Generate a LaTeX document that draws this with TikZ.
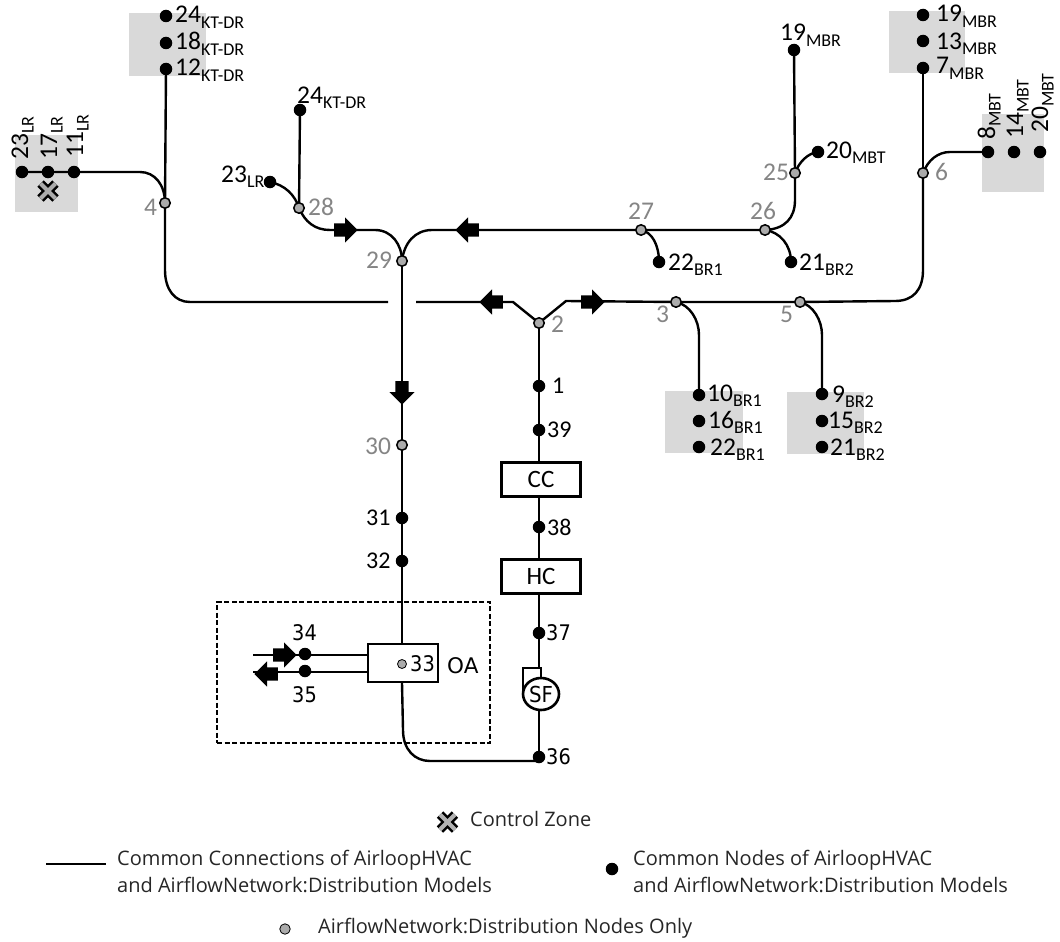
\documentclass[tikz,border=0pt]{standalone}
\usepackage{fontspec}
\setmainfont{Carlito}
\newfontfamily\dv{DejaVu Sans}
\newfontfamily\dvs[FakeStretch=0.9]{DejaVu Sans}
\newfontfamily\leg{Open Sans}
\usetikzlibrary{shapes.arrows,shapes.geometric,backgrounds,calc}
\definecolor{zone}{gray}{0.85}
\definecolor{gnode}{gray}{0.67}
\definecolor{glab}{gray}{0.52}
\newcommand\lab[2]{{\fontsize{25.5}{24}\selectfont #1}\raisebox{-5.5pt}{\fontsize{18}{17}\selectfont #2}}
\newcommand\bnum[1]{{\fontsize{25.5}{24}\selectfont #1}}
\newcommand\snum[1]{{\fontsize{24}{23}\selectfont #1}}
\newcommand\dvn[1]{{\dvs\fontsize{21.5}{20}\selectfont #1}}
\tikzset{
  conn/.style={line width=2.4pt,black},
  bd/.style={circle,fill=black,inner sep=0,minimum size=12.5pt},
  gd/.style={circle,fill=gnode,draw=black,line width=1.5pt,inner sep=0,minimum size=10.5pt},
  lb/.style={anchor=base west,inner sep=0,black},
  gl/.style={anchor=base west,inner sep=0,glab},
  rl/.style={anchor=base west,inner sep=0,rotate=90,black},
  flow/.style={single arrow,fill=black,inner sep=6.5pt,minimum height=23.5pt,single arrow head extend=6pt,single arrow head indent=0pt,anchor=tail},
  boxn/.style={draw=black,line width=3pt,fill=white,inner sep=0,minimum width=79pt,minimum height=34pt,font=\fontsize{25}{25}\selectfont},
  legt/.style={anchor=base west,inner sep=0,font=\leg\fontsize{20}{20}\selectfont,text=black!85},
  xout/.style={line width=9pt,black},
  xin/.style={line width=4pt},
}
\newcommand\ctrlx[2]{%
  \draw[xout] ($(#1)+(-7.5,-7.5)$) -- ($(#1)+(7.5,7.5)$);
  \draw[xout] ($(#1)+(-7.5,7.5)$) -- ($(#1)+(7.5,-7.5)$);
  \draw[xin,#2] ($(#1)+(-7.5,-7.5)$) -- ($(#1)+(7.5,7.5)$);
  \draw[xin,#2] ($(#1)+(-7.5,7.5)$) -- ($(#1)+(7.5,-7.5)$);}
\begin{document}
\begin{tikzpicture}[x=1pt,y=-1pt]
\useasboundingbox (0,0) rectangle (1060,942);
% junction nodes
\node[gd] (n4) at (165,203) {};
\node[gd] (n28) at (299,208) {};
\node[gd] (n29) at (402,261) {};
\node[gd] (n27) at (641,230) {};
\node[gd] (n26) at (765,230) {};
\node[gd] (n25) at (795,173) {};
\node[gd] (n6) at (923,173) {};
\node[gd] (n2) at (539,323) {};
\node[gd] (n3) at (676,302) {};
\node[gd] (n5) at (800,302) {};
\node[gd] (n30) at (402,445) {};
% black nodes
\node[bd] (kt24) at (166,16) {};
\node[bd] (kt18) at (166,43) {};
\node[bd] (kt12) at (166,69) {};
\node[bd] (lr23) at (22,172) {};
\node[bd] (lr17) at (48,172) {};
\node[bd] (lr11) at (74,172) {};
\node[bd] (a23) at (270,182) {};
\node[bd] (a24) at (300,110) {};
\node[bd] (a19) at (794,50) {};
\node[bd] (a20) at (818,152) {};
\node[bd] (a22) at (659,262) {};
\node[bd] (a21) at (791,262) {};
\node[bd] (mbr19) at (923,15) {};
\node[bd] (mbr13) at (923,41) {};
\node[bd] (mbr7) at (923,68) {};
\node[bd] (mbt8) at (988,152) {};
\node[bd] (mbt14) at (1014,152) {};
\node[bd] (mbt20) at (1040,152) {};
\node[bd] (b10) at (699,395) {};
\node[bd] (b16) at (699,421) {};
\node[bd] (b22) at (699,447) {};
\node[bd] (c9) at (822,394) {};
\node[bd] (c15) at (822,421) {};
\node[bd] (c21) at (822,447) {};
\node[bd] (n1) at (539,386) {};
\node[bd] (n39) at (539,430) {};
\node[bd] (n38) at (539,527) {};
\node[bd] (n37) at (539,633) {};
\node[bd] (n36) at (539,757) {};
\node[bd] (n31) at (402,518) {};
\node[bd] (n32) at (402,561) {};
\node[bd] (n34) at (305,654) {};
\node[bd] (n35) at (305,671) {};
% boxes
\node[boxn] (cc) at (541,479) {CC};
\node[boxn] (hc) at (541,576) {HC};
\node[draw=black,line width=1.8pt,fill=white,inner sep=0,minimum width=70pt,minimum height=38pt] (oa) at (403,663) {};
\node[gd,minimum size=9pt,line width=.8pt] (n33) at (402,664) {};
\node[ellipse,draw=black,line width=2.6pt,fill=white,inner sep=0,minimum width=36pt,minimum height=32pt,font=\dvs\fontsize{22}{22}\selectfont] (sf) at (541,694) {SF};
% free ends
\coordinate (e34) at (253,655);
\coordinate (e35) at (253,672);
\coordinate (bl) at (388,302);
\coordinate (br) at (416,302);
% background: zones and connectors
\begin{scope}[on background layer]
\fill[zone] (129,13) rectangle (206,76);
\fill[zone] (15,135) rectangle (78,212);
\fill[zone] (889,11) rectangle (965,73);
\fill[zone] (982,114) rectangle (1044,192);
\fill[zone] (665,391) rectangle (743,453);
\fill[zone] (787,392) rectangle (864,454);
\draw[conn] (lr23.center) -- (lr11.center) -- (140,172) .. controls (155,172) and (165,185) .. (n4.center);
\draw[conn] (kt12.center) -- (n4.center) -- (165,270) .. controls (165,290) and (175,302) .. (190,302) -- (bl);
\draw[conn] (a23.center) .. controls (285,185) and (295,195) .. (n28.center);
\draw[conn] (a24.center) -- (n28.center);
\draw[conn] (n28.center) .. controls (305,222) and (315,230) .. (330,230) -- (375,230) .. controls (392,230) and (402,245) .. (n29.center);
\draw[conn] (n29.center) .. controls (404,243) and (415,230) .. (432,230) -- (n27.center) -- (n26.center);
\draw[conn] (n27.center) .. controls (652,232) and (659,245) .. (a22.center);
\draw[conn] (n26.center) .. controls (780,232) and (791,245) .. (a21.center);
\draw[conn] (n26.center) .. controls (785,229) and (795,218) .. (795,200) -- (n25.center);
\draw[conn] (n25.center) -- (a19.center);
\draw[conn] (n25.center) .. controls (799,162) and (808,153) .. (a20.center);
\draw[conn] (n29.center) -- (n30.center) -- (n31.center) -- (n32.center) -- (oa.north -| n32);
\draw[conn] (oa.south -| n32) -- (403,730) .. controls (403,750) and (415,761) .. (430,761) -- ($(n36.center)+(0,4)$);
\draw[conn] (br) -- (513,302) -- (n2.center);
\draw[conn] (n2.center) -- (566,301) -- (n3.center) -- (n5.center) -- (895,301) .. controls (913,301) and (923,290) .. (923,270) -- (n6.center);
\draw[conn] (n6.center) -- (mbr7.center);
\draw[conn] (n6.center) .. controls (928,160) and (938,152) .. (950,152) -- (mbt8.center);
\draw[conn] (n3.center) .. controls (690,305) and (699,320) .. (699,335) -- (b10.center);
\draw[conn] (n5.center) .. controls (813,305) and (822,320) .. (822,335) -- (c9.center);
\draw[conn] (n2.center) -- (n1.center) -- (n39.center) -- (cc.north -| n39);
\draw[conn] (cc.south -| n38) -- (n38.center) -- (hc.north -| n38);
\draw[conn] (hc.south -| n37) -- (n37.center) -- (539,668);
\draw[conn,fill=white] (541,668) -- (523,668) -- (523,692) -- (541,692) -- cycle;
\draw[conn] (sf.south -| n36) -- (n36.center);
\draw[line width=2pt] (e34) -- (oa.west |- e34);
\draw[line width=2pt] (e35) -- (oa.west |- e35);
\end{scope}
% dashed box
\node[draw=black,dash pattern=on 5pt off 2.5pt,line width=1.8pt,inner sep=0,minimum width=273pt,minimum height=141pt] (dash) at (353.5,672.5) {};
% flow arrows
\node[flow] (f1) at (334,230) {};
\node[flow,rotate=180] (f2) at (479,230) {};
\node[flow,rotate=180] (f3) at (503,302) {};
\node[flow] (f4) at (581,302) {};
\node[flow,rotate=-90] (f5) at (402,381) {};
\node[flow] (f6) at (273,655) {};
\node[flow,rotate=180] (f7) at (278,674) {};
% control zone marks
\coordinate (cz) at (48,191);
\ctrlx{cz}{gnode}
\coordinate (czl) at (447.5,822);
\ctrlx{czl}{black!30}
% labels
\node[lb] (t1) at (175,23) {\lab{24}{KT-DR}};
\node[lb] (t2) at (175,50) {\lab{18}{KT-DR}};
\node[lb] (t3) at (175,76) {\lab{12}{KT-DR}};
\node[rl] (t4) at (28,160) {\lab{23}{LR}};
\node[rl] (t5) at (57,160) {\lab{17}{LR}};
\node[rl] (t6) at (83,158) {\lab{11}{LR}};
\node[lb] (t7) at (221,182) {\lab{23}{LR}};
\node[lb] (t8) at (297,103) {\lab{24}{KT-DR}};
\node[lb] (t9) at (780,41) {\lab{19}{MBR}};
\node[lb] (t10) at (826,158) {\lab{20}{MBT}};
\node[lb] (t11) at (668,270) {\lab{22}{BR1}};
\node[lb] (t12) at (799,270) {\lab{21}{BR2}};
\node[lb] (t13) at (936,22) {\lab{19}{MBR}};
\node[lb] (t14) at (936,49) {\lab{13}{MBR}};
\node[lb] (t15) at (936,74) {\lab{7}{MBR}};
\node[rl] (t16) at (995,140) {\lab{8}{MBT}};
\node[rl] (t17) at (1023,139) {\lab{14}{MBT}};
\node[rl] (t18) at (1048,133) {\lab{20}{MBT}};
\node[lb] (t19) at (707,401) {\lab{10}{BR1}};
\node[lb] (t20) at (708,428) {\lab{16}{BR1}};
\node[lb] (t21) at (710,455) {\lab{22}{BR1}};
\node[lb] (t22) at (832,402) {\lab{9}{BR2}};
\node[lb] (t23) at (828,428) {\lab{15}{BR2}};
\node[lb] (t24) at (830,455) {\lab{21}{BR2}};
\node[gl] (g4) at (144,215) {\bnum{4}};
\node[gl] (g28) at (308,215) {\bnum{28}};
\node[gl] (g29) at (366,268) {\bnum{29}};
\node[gl] (g27) at (628,219) {\bnum{27}};
\node[gl] (g26) at (750,219) {\bnum{26}};
\node[gl] (g25) at (763,180) {\bnum{25}};
\node[gl] (g6) at (935,180) {\bnum{6}};
\node[gl] (g3) at (656,322) {\bnum{3}};
\node[gl] (g5) at (780,322) {\bnum{5}};
\node[gl] (g2) at (551,332) {\bnum{2}};
\node[gl] (g30) at (365,454) {\bnum{30}};
\node[lb] (k31) at (366,525) {\snum{31}};
\node[lb] (k32) at (366,568) {\snum{32}};
\node[lb] (k1) at (552,393) {\snum{1}};
\node[lb] (k39) at (547,437) {\snum{39}};
\node[lb] (k38) at (547,535) {\snum{38}};
\node[lb] (k37) at (546,640) {\dvn{37}};
\node[lb] (k36) at (546,764) {\dvn{36}};
\node[lb] (k34) at (292,640) {\dvn{34}};
\node[lb] (k35) at (292,702) {\dvn{35}};
\node[lb] (k33) at (410,671) {\dvn{33}};
\node[lb] (koa) at (447,673) {{\dv\fontsize{21.5}{21}\selectfont OA}};
% legend
\node[legt] (l1) at (470,826) {Control Zone};
\coordinate (ll) at (46,864);
\coordinate (lr) at (106,864);
\draw[line width=2.4pt] (ll) -- (lr);
\node[legt] (l2) at (117,865) {Common Connections of AirloopHVAC};
\node[legt] (l3) at (117,892) {and AirflowNetwork:Distribution Models};
\node[bd] (ld) at (612,869) {};
\node[legt] (l4) at (633,865) {Common Nodes of AirloopHVAC};
\node[legt] (l5) at (633,892) {and AirflowNetwork:Distribution Models};
\node[gd,line width=.8pt] (lg) at (285,929) {};
\node[legt] (l6) at (318,933) {AirflowNetwork:Distribution Nodes Only};
\end{tikzpicture}
\end{document}
